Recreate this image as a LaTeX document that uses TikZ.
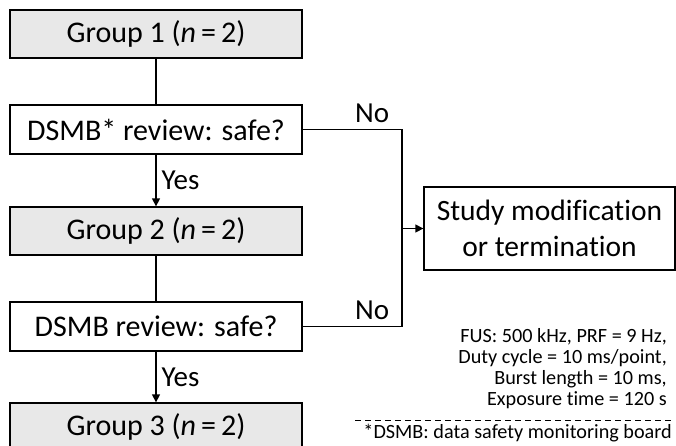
\documentclass[tikz,border=0pt]{standalone}
\usepackage{fontspec}
\setmainfont[Ligatures=NoCommon]{Carlito}
\usetikzlibrary{arrows.meta}
\begin{document}
\begin{tikzpicture}[x=1pt,y=1pt,
  box/.style={draw=black,line width=1.3pt,minimum width=292pt,inner sep=0pt,font=\fontsize{30}{34}\selectfont},
  grp/.style={box,fill=gray!18,minimum height=48pt},
  rev/.style={box,fill=white,minimum height=49pt},
  conn/.style={line width=1.3pt},
  arr/.style={conn,-{Triangle[length=8pt,width=8pt]}},
  lab/.style={font=\fontsize{29}{32}\selectfont,inner sep=0pt},
  note/.style={font=\fontsize{20.2}{21}\selectfont,inner sep=0pt}]
\useasboundingbox (0,0) rectangle (676,445);
\clip (0,0) rectangle (676,445);
\node[grp] (g1) at (156,411) {Group 1 (\textit{n}\,=\,2)};
\node[rev] (d1) at (156,315.5) {DSMB* review: safe?};
\node[grp] (g2) at (156,214) {Group 2 (\textit{n}\,=\,2)};
\node[rev] (d2) at (156,118.5) {DSMB review: safe?};
\node[grp] (g3) at (156,18) {Group 3 (\textit{n}\,=\,2)};
\node[draw=black,line width=1.3pt,minimum width=251pt,minimum height=83pt,align=center,inner sep=0pt,font=\fontsize{29.5}{36}\selectfont] (sm) at (549.5,216.5) {Study modification\\or termination};
\coordinate (j) at (402,216.5);
\draw[conn] (g1) -- (d1);
\draw[arr] (d1) -- (g2) node[lab,midway,right=5pt] {Yes};
\draw[conn] (g2) -- (d2);
\draw[arr] (d2) -- (g3) node[lab,midway,right=5pt] {Yes};
\draw[conn] (d1.east) -| (j) node[lab,pos=0.35,above=6pt] {No};
\draw[conn] (d2.east) -| (j) node[lab,pos=0.35,above=6pt] {No};
\draw[arr] (j) -- (sm.west);
\node[note,anchor=east] (n1) at (667,108) {FUS: 500 kHz, PRF = 9 Hz,};
\node[note,anchor=east] (n2) at (667,87) {Duty cycle = 10 ms/point,};
\node[note,anchor=east] (n3) at (667,65.5) {Burst length = 10 ms,};
\node[note,anchor=east] (n4) at (667,45) {Exposure time = 120 s};
\coordinate (dl) at (355,25);
\coordinate (dr) at (673,25);
\draw[line width=1pt,dash pattern=on 6pt off 4pt] (dl) -- (dr);
\node[note,anchor=east] (fn) at (672,11.5) {*DSMB: data safety monitoring board};
\end{tikzpicture}
\end{document}
